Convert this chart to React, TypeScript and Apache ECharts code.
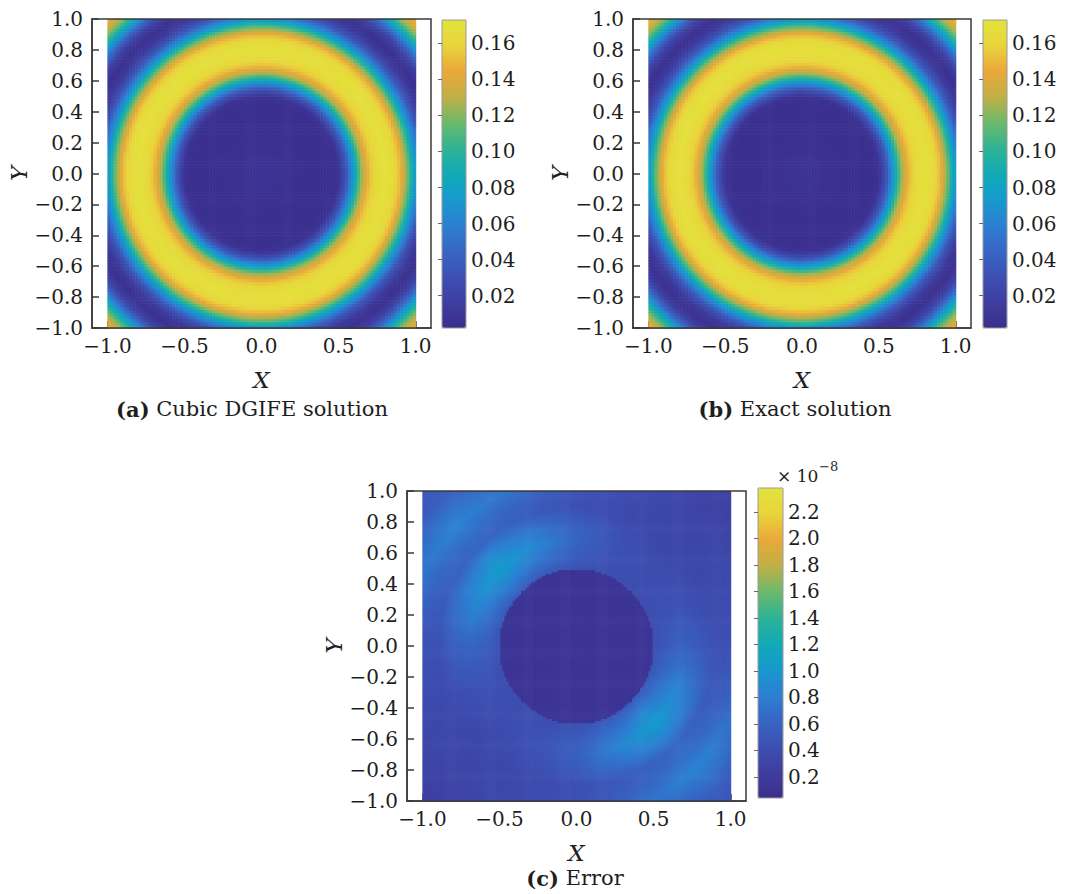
import React, { useEffect, useRef } from "react";
import * as echarts from "echarts";

// ---- Data ----
// X ticks (value axis) and colour-bar ticks
const xTickValues = [-1, -0.5, 0, 0.5, 1];
const solutionBarTicks = [0.02, 0.04, 0.06, 0.08, 0.1, 0.12, 0.14, 0.16];
const errorBarTicks = [0.2, 0.4, 0.6, 0.8, 1.0, 1.2, 1.4, 1.6, 1.8, 2.0, 2.2];

// Colour-bar ranges
const solutionRange = [0.002, 0.173];
const errorRange = [0.04, 2.38]; // ×10^-8

// Radial profile of the solution (panels a and b), value versus radius
const solutionRadius = [0, 0.1, 0.15, 0.3, 0.45, 0.5, 0.55, 0.6, 0.65, 0.7, 0.75, 0.8, 0.85, 0.9, 0.95, 1.0, 1.05, 1.1, 1.15, 1.2, 1.25, 1.3, 1.35, 1.4, 1.45];
const solutionValue = [0.008, 0.007, 0.005, 0.004, 0.004, 0.006, 0.035, 0.078, 0.125, 0.152, 0.165, 0.17, 0.166, 0.15, 0.115, 0.07, 0.035, 0.013, 0.005, 0.018, 0.048, 0.088, 0.124, 0.145, 0.155];

// Error field (panel c, ×10^-8): inner disc value, radial profiles along
// the bright (135°/315°) and dim (45°/225°) diagonals, and angular weights
const errorInner = 0.13;
const errorRadius = [0.5, 0.6, 0.7, 0.8, 0.9, 1.0, 1.1, 1.2, 1.3, 1.42];
const errorBright = [0.55, 0.85, 1.05, 0.9, 0.62, 0.7, 0.85, 0.72, 0.55, 0.48];
const errorDim = [0.4, 0.4, 0.38, 0.36, 0.34, 0.33, 0.32, 0.3, 0.28, 0.28];
const errorAngleDeg = [0, 22.5, 45, 67.5, 90, 112.5, 135, 157.5, 180, 202.5, 225, 247.5, 270, 292.5, 315, 337.5, 360];
const errorAngleWeight = [0.3, 0.1, 0, 0.1, 0.35, 0.75, 1, 0.75, 0.35, 0.1, 0, 0.1, 0.3, 0.7, 1, 0.7, 0.3];

const paletteColors = ["#3b2e8c", "#3e3ea0", "#3d50b2", "#3766c4", "#2c80d2", "#1699cd", "#12aab5", "#2fb395", "#6cb96b", "#c0b046", "#eaa83b", "#e9d43c", "#e2e33c"];

const captions = [
  { tag: "(a)", text: " Cubic DGIFE solution" },
  { tag: "(b)", text: " Exact solution" },
  { tag: "(c)", text: " Error" },
];

const solutionCellsPerSide = 100;
const errorCellsPerSide = 150;
const FONT = "DejaVu Serif";

function lookup(xs: number[], ys: number[], x: number): number {
  if (x <= xs[0]) return ys[0];
  if (x >= xs[xs.length - 1]) return ys[ys.length - 1];
  for (let i = 1; i < xs.length; i++) {
    if (x <= xs[i]) {
      const t = (x - xs[i - 1]) / (xs[i] - xs[i - 1]);
      return ys[i - 1] + t * (ys[i] - ys[i - 1]);
    }
  }
  return ys[ys.length - 1];
}

function buildField(n: number, fn: (x: number, y: number) => number) {
  const out: number[][] = [];
  const d = 2 / n;
  for (let i = 0; i < n; i++) {
    for (let j = 0; j < n; j++) {
      const x = -1 + (i + 0.5) * d;
      const y = -1 + (j + 0.5) * d;
      out.push([x, y, fn(x, y)]);
    }
  }
  return out;
}

const solutionCells = buildField(solutionCellsPerSide, (x, y) => lookup(solutionRadius, solutionValue, Math.hypot(x, y)));
const errorCells = buildField(errorCellsPerSide, (x, y) => {
  const r = Math.hypot(x, y);
  if (r < 0.5) return errorInner;
  let a = (Math.atan2(y, x) * 180) / Math.PI;
  if (a < 0) a += 360;
  const w = lookup(errorAngleDeg, errorAngleWeight, a);
  const b = lookup(errorRadius, errorBright, r);
  const dm = lookup(errorRadius, errorDim, r);
  return dm + w * (b - dm);
});

const fmt = (v: number, d: number) => (v < 0 ? "\u2212" : "") + Math.abs(v).toFixed(d);

const AXIS_COLOR = "#3a3a3a";
const TEXT_COLOR = "#1e1e1e";

function panelAxes(gi: number) {
  const xAxis = {
    type: "value",
    gridIndex: gi,
    min: -1.1,
    max: 1.1,
    name: "X",
    nameLocation: "middle",
    nameGap: 40,
    nameTextStyle: { fontFamily: FONT, fontStyle: "italic", fontSize: 23, color: TEXT_COLOR },
    axisLine: { show: true, onZero: false, lineStyle: { color: AXIS_COLOR, width: 1.5 } },
    axisTick: { show: true, inside: true, length: 7, customValues: xTickValues, lineStyle: { color: AXIS_COLOR, width: 1.5 } },
    axisLabel: { customValues: xTickValues, margin: 8, fontFamily: FONT, fontSize: 20, color: TEXT_COLOR, formatter: (v: number) => fmt(v, 1) },
    splitLine: { show: false },
  };
  const yAxis = {
    type: "value",
    gridIndex: gi,
    min: -1,
    max: 1,
    interval: 0.2,
    name: "Y",
    nameLocation: "middle",
    nameGap: 61,
    nameTextStyle: { fontFamily: FONT, fontStyle: "italic", fontSize: 23, color: TEXT_COLOR },
    axisLine: { show: true, onZero: false, lineStyle: { color: AXIS_COLOR, width: 1.5 } },
    axisTick: { show: true, inside: true, length: 7, lineStyle: { color: AXIS_COLOR, width: 1.5 } },
    axisLabel: { margin: 9, fontFamily: FONT, fontSize: 20, color: TEXT_COLOR, formatter: (v: number) => fmt(v, 1) },
    splitLine: { show: false },
  };
  return { xAxis, yAxis };
}

function barAxes(gi: number, range: number[], ticks: number[], dec: number) {
  const xAxis = { type: "value", gridIndex: gi, show: false, min: 0, max: 1 };
  const yAxis = {
    type: "value",
    gridIndex: gi,
    position: "right",
    min: range[0],
    max: range[1],
    z: 10,
    axisLine: { show: false },
    axisTick: { show: true, inside: true, length: 4, customValues: ticks, lineStyle: { color: "#666", width: 1 } },
    axisLabel: { customValues: ticks, margin: 5, fontFamily: FONT, fontSize: 20, color: TEXT_COLOR, formatter: (v: number) => v.toFixed(dec) },
    splitLine: { show: false },
  };
  return { xAxis, yAxis };
}

function cellSeries(idx: number, data: number[][], n: number) {
  const h = 1 / n;
  return {
    type: "custom",
    xAxisIndex: idx,
    yAxisIndex: idx,
    data,
    silent: true,
    progressive: 0,
    encode: { x: 0, y: 1 },
    renderItem: (_params: any, api: any) => {
      const x = api.value(0);
      const y = api.value(1);
      const p0 = api.coord([x - h, y + h]);
      const p1 = api.coord([x + h, y - h]);
      return {
        type: "rect",
        shape: { x: p0[0], y: p0[1], width: p1[0] - p0[0] + 0.6, height: p1[1] - p0[1] + 0.6 },
        style: { fill: api.visual("color") },
      };
    },
  };
}

export default function App() {
  const ref = useRef<HTMLDivElement>(null);
  useEffect(() => {
    if (!ref.current) return;
    const chart = echarts.init(ref.current, undefined, { renderer: "svg" });

    const grids = [
      { left: 92, top: 19, width: 339, height: 309 },
      { left: 633, top: 19, width: 338, height: 309 },
      { left: 407, top: 491, width: 339, height: 310 },
      { left: 442, top: 20, width: 24, height: 308 },
      { left: 983, top: 20, width: 24, height: 308 },
      { left: 758, top: 488, width: 25, height: 310 },
    ].map((g, i) => ({
      ...g,
      show: true,
      z: i >= 3 ? 10 : 5,
      backgroundColor: "rgba(0,0,0,0)",
      borderColor: i >= 3 ? "#9a9a9a" : AXIS_COLOR,
      borderWidth: i >= 3 ? 1 : 1.5,
    }));

    const p0 = panelAxes(0);
    const p1 = panelAxes(1);
    const p2 = panelAxes(2);
    const b0 = barAxes(3, solutionRange, solutionBarTicks, 2);
    const b1 = barAxes(4, solutionRange, solutionBarTicks, 2);
    const b2 = barAxes(5, errorRange, errorBarTicks, 1);

    const vm = (seriesIndex: number, range: number[], left: number, top: number, w: number, hgt: number) => ({
      type: "continuous",
      seriesIndex,
      dimension: 2,
      min: range[0],
      max: range[1],
      left,
      top,
      itemWidth: w,
      itemHeight: hgt,
      padding: 0,
      calculable: false,
      realtime: false,
      hoverLink: false,
      inRange: { color: paletteColors },
      textStyle: { color: "transparent" },
    });

    const captionText = (c: { tag: string; text: string }, cx: number, cy: number) => ({
      type: "text",
      x: cx,
      y: cy,
      style: {
        text: `{b|${c.tag}}{n|${c.text}}`,
        align: "center",
        verticalAlign: "middle",
        rich: {
          b: { fontFamily: FONT, fontWeight: "bold", fontSize: 21, fill: TEXT_COLOR },
          n: { fontFamily: FONT, fontSize: 21, fill: TEXT_COLOR },
        },
      },
    });

    chart.setOption({
      animation: false,
      backgroundColor: "#ffffff",
      grid: grids,
      xAxis: [p0.xAxis, p1.xAxis, p2.xAxis, b0.xAxis, b1.xAxis, b2.xAxis],
      yAxis: [p0.yAxis, p1.yAxis, p2.yAxis, b0.yAxis, b1.yAxis, b2.yAxis],
      visualMap: [
        vm(0, solutionRange, 442, 20, 24, 308),
        vm(1, solutionRange, 983, 20, 24, 308),
        vm(2, errorRange, 758, 488, 25, 310),
      ],
      series: [
        cellSeries(0, solutionCells, solutionCellsPerSide),
        cellSeries(1, solutionCells, solutionCellsPerSide),
        cellSeries(2, errorCells, errorCellsPerSide),
      ],
      graphic: [
        captionText(captions[0], 252, 409),
        captionText(captions[1], 795, 409),
        captionText(captions[2], 575, 878),
        {
          type: "text",
          x: 777,
          y: 476,
          style: { text: "\u00d7 10", fontFamily: FONT, fontSize: 17, fill: TEXT_COLOR, verticalAlign: "middle" },
        },
        {
          type: "text",
          x: 819,
          y: 466,
          style: { text: "\u22128", fontFamily: FONT, fontSize: 13, fill: TEXT_COLOR, verticalAlign: "middle" },
        },
      ],
    });
    return () => chart.dispose();
  }, []);
  return <div ref={ref} style={{ position: "absolute", left: 0, top: 0, width: 1065, height: 894 }} />;
}
